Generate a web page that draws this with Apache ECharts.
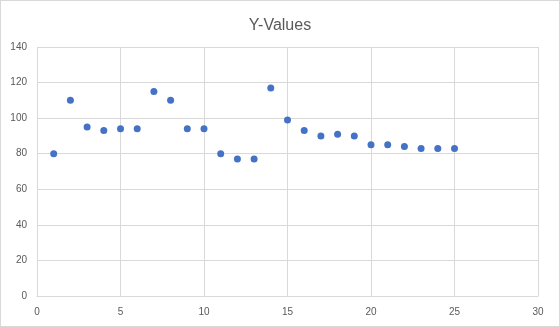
<!DOCTYPE html>
<html><head><meta charset="utf-8">
<script src="https://cdn.jsdelivr.net/npm/echarts@6/dist/echarts.min.js"></script>
<style>html,body{margin:0;padding:0;background:#fff}#c{width:558px;height:325px;border:1px solid #d9d9d9}</style>
</head><body><div id="c"></div>
<script>
var xValues = [1,2,3,4,5,6,7,8,9,10,11,12,13,14,15,16,17,18,19,20,21,22,23,24,25];
var yValues = [80,110,95,93,94,94,115,110,94,94,80,77,77,117,99,93,90,91,90,85,85,84,83,83,83];
var data = xValues.map(function(x,i){return [x,yValues[i]];});
var chart = echarts.init(document.getElementById('c'));
chart.setOption({
  animation:false,
  title:{text:'Y-Values',left:'center',top:12,textStyle:{fontFamily:'"Liberation Sans", sans-serif',fontSize:16,fontWeight:'normal',color:'#595959'}},
  grid:{left:36,right:21,top:46,bottom:30},
  xAxis:{type:'value',min:0,max:30,interval:5,
    axisLine:{show:true,lineStyle:{color:'#d9d9d9'}},axisTick:{show:false},
    splitLine:{show:true,lineStyle:{color:'#d9d9d9'}},
    axisLabel:{color:'#595959',fontSize:10,margin:11,fontFamily:'"Liberation Sans", sans-serif'}},
  yAxis:{type:'value',min:0,max:140,interval:20,
    axisLine:{show:false},axisTick:{show:false},
    splitLine:{show:true,lineStyle:{color:'#d9d9d9'}},
    axisLabel:{color:'#595959',fontSize:10,margin:10,fontFamily:'"Liberation Sans", sans-serif'}},
  series:[{type:'scatter',data:data,symbolSize:7,itemStyle:{color:'#4472C4',opacity:1}}]
});
</script></body></html>
